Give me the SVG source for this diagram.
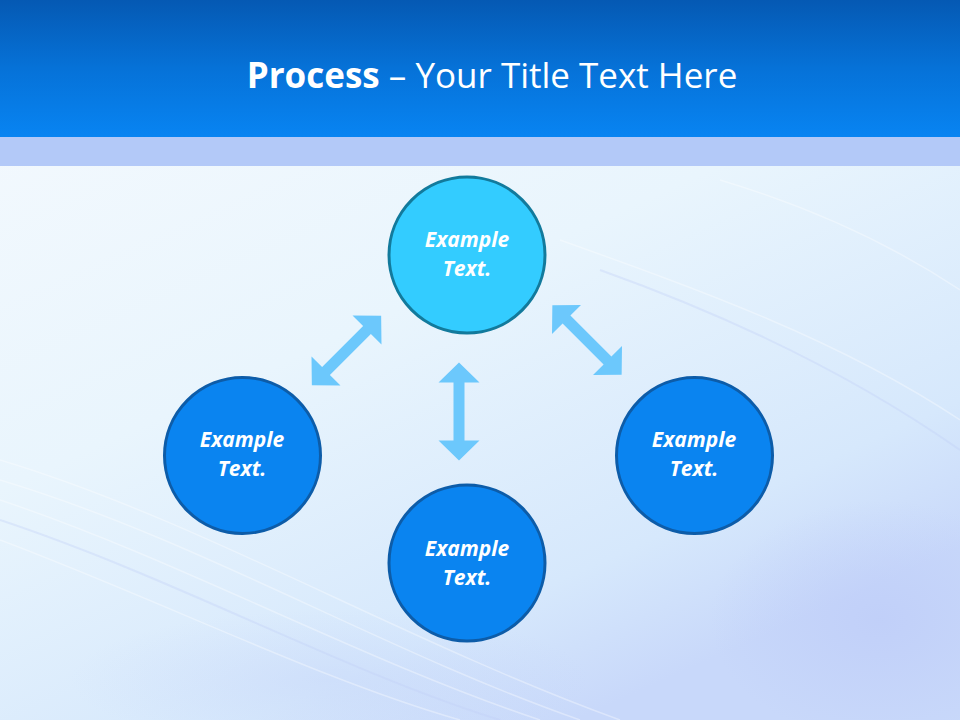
<svg xmlns="http://www.w3.org/2000/svg" width="960" height="720" viewBox="0 0 960 720">
<defs>
<linearGradient id="hdr" x1="0" y1="0" x2="0" y2="1">
<stop offset="0" stop-color="#0559b3"/>
<stop offset="0.5" stop-color="#0672d8"/>
<stop offset="1" stop-color="#0884f2"/>
</linearGradient>
<linearGradient id="bg" x1="0" y1="0" x2="0.6" y2="1">
<stop offset="0" stop-color="#f6fafe"/>
<stop offset="0.5" stop-color="#e9f5fd"/>
<stop offset="0.85" stop-color="#d6e8fc"/>
<stop offset="1" stop-color="#c8d8fa"/>
</linearGradient>
<radialGradient id="glow" cx="0.5" cy="0.5" r="0.5">
<stop offset="0" stop-color="#bccaf8" stop-opacity="0.6"/>
<stop offset="1" stop-color="#bccaf8" stop-opacity="0"/>
</radialGradient>
<path id="dbl" d="M -49,0 L -29,-20.5 L -29,-5.5 L 29,-5.5 L 29,-20.5 L 49,0 L 29,20.5 L 29,5.5 L -29,5.5 L -29,20.5 Z"/>
</defs>
<style>
.title{font-family:"Open Sans","Liberation Sans",sans-serif;font-size:35px;fill:#ffffff}
.lbl{font-family:"Open Sans","Liberation Sans",sans-serif;font-size:21px;font-weight:bold;font-style:italic;fill:#ffffff;text-anchor:middle}
.node-top{fill:#33ccff;stroke:#127a9c;stroke-width:3}
.node{fill:#0a84f0;stroke:#0d5ca8;stroke-width:3}
.arrow{fill:#6cc8fc}
.streak{fill:none;stroke:#ffffff;stroke-opacity:0.35;stroke-width:1.5}
.streak2{fill:none;stroke:#c0cdf6;stroke-opacity:0.35;stroke-width:2}
</style>
<rect x="0" y="0" width="960" height="720" fill="url(#bg)"/>
<ellipse cx="880" cy="620" rx="170" ry="120" fill="url(#glow)"/>
<ellipse cx="330" cy="680" rx="260" ry="70" fill="url(#glow)" opacity="0.5"/>
<g id="streaks">
<path class="streak" d="M 0,460 C 200,520 400,640 620,720"/>
<path class="streak" d="M 0,480 C 200,540 380,650 580,720"/>
<path class="streak" d="M 0,500 C 180,560 360,660 540,720"/>
<path class="streak2" d="M 0,520 C 180,580 340,670 500,720"/>
<path class="streak" d="M 0,540 C 160,600 320,680 460,720"/>
<path class="streak" d="M 560,240 C 700,290 840,340 960,420"/>
<path class="streak2" d="M 600,270 C 740,320 860,380 960,450"/>
<path class="streak" d="M 720,180 C 820,210 900,250 960,290"/>
</g>
<rect x="0" y="0" width="960" height="137" fill="url(#hdr)"/>
<rect x="0" y="137" width="960" height="29" fill="#b3c9f8"/>
<text class="title" x="492" y="88" text-anchor="middle"><tspan font-weight="bold">Process</tspan> – Your Title Text Here</text>
<g id="connectors">
<use href="#dbl" class="arrow" transform="translate(346.5,350.5) rotate(-45)"/>
<use href="#dbl" class="arrow" transform="translate(587,340) rotate(45)"/>
<use href="#dbl" class="arrow" transform="translate(459,411.5) rotate(90)"/>
</g>
<g id="node-top">
<circle class="node-top" cx="467" cy="255" r="78"/>
<text class="lbl" x="467" y="247">Example</text>
<text class="lbl" x="467" y="276">Text.</text>
</g>
<g id="node-left">
<circle class="node" cx="242.5" cy="455.5" r="78"/>
<text class="lbl" x="242" y="447">Example</text>
<text class="lbl" x="242" y="476">Text.</text>
</g>
<g id="node-right">
<circle class="node" cx="694.5" cy="455.5" r="78"/>
<text class="lbl" x="694" y="447">Example</text>
<text class="lbl" x="694" y="476">Text.</text>
</g>
<g id="node-bottom">
<circle class="node" cx="467" cy="563" r="78"/>
<text class="lbl" x="467" y="556">Example</text>
<text class="lbl" x="467" y="585">Text.</text>
</g>
</svg>
